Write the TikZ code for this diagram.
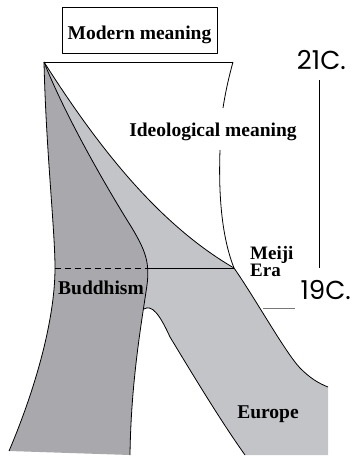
\documentclass[tikz,border=0pt]{standalone}
\usepackage{fontspec}
\setmainfont{Liberation Serif}
\newfontfamily\cfont{Poppins}
\definecolor{darkg}{RGB}{169,169,173}
\definecolor{lightg}{RGB}{195,196,200}
\definecolor{midline}{RGB}{120,120,120}
\begin{document}
\begin{tikzpicture}[x=1pt,y=-1pt,line join=round,
  lab/.style={font=\fontsize{19.5}{17}\selectfont\bfseries,inner sep=0pt},
  cent/.style={font=\fontsize{26}{26}\selectfont\cfont,inner sep=0pt},
  edge/.style={line width=0.8pt,black},
  dashline/.style={line width=0.8pt,dash pattern=on 6pt off 4pt}]
\useasboundingbox (0,0) rectangle (352,456);
% named points
\coordinate (apex) at (44,62);
\coordinate (meiji) at (234,268);
\coordinate (junc) at (144,309);
\coordinate (topR) at (233,62);
% light region (ideological / Europe)
\fill[lightg] (apex) .. controls (100,150) and (160,225) .. (meiji)
  .. controls (255,298) and (285,352) .. (300,368)
  .. controls (310,378) and (318,383) .. (328,387)
  -- (328,455) -- (245,455)
  .. controls (220,420) and (190,370) .. (170,337)
  .. controls (160,315) and (152,304) .. (junc)
  -- (100,309) -- cycle;
% dark region (Buddhism)
\fill[darkg] (apex) .. controls (46,150) and (55,230) .. (55,268)
  .. controls (55,320) and (35,390) .. (9,451)
  -- (130,455)
  .. controls (131,380) and (142,320) .. (147,285)
  .. controls (150,262) and (145,250) .. (132,228)
  .. controls (105,185) and (65,115) .. (apex) -- cycle;
% strokes
\draw[edge] (apex) .. controls (100,150) and (160,225) .. (meiji)
  .. controls (255,298) and (285,352) .. (300,368)
  .. controls (310,378) and (318,383) .. (328,387);
\draw[edge] (junc) .. controls (152,304) and (160,315) .. (170,337)
  .. controls (190,370) and (220,420) .. (245,455);
\draw[edge] (apex) .. controls (46,150) and (55,230) .. (55,268)
  .. controls (55,320) and (35,390) .. (9,451);
\draw[edge] (apex) .. controls (65,115) and (105,185) .. (132,228)
  .. controls (145,250) and (150,262) .. (147,285)
  .. controls (142,320) and (131,380) .. (130,455);
\draw[edge] (apex) -- (topR);
\draw[edge] (topR) .. controls (228,80) and (225,95) .. (223,108);
\draw[edge] (220,150) .. controls (219,180) and (219,230) .. (meiji);
\draw[dashline] (55,268) -- (148,268);
\draw[edge] (148,268) -- (meiji);
% time axis
\coordinate (axT) at (319,80);
\coordinate (axB) at (319,268);
\draw[edge] (axT) -- (axB);
\coordinate (g1) at (263,308);
\coordinate (g2) at (295,308);
\draw[line width=0.9pt,midline] (g1) -- (g2);
% labels
\node[draw,line width=0.6pt,lab,text height=32.5pt,text depth=13.5pt,minimum width=155pt,anchor=base] (modern) at (139.5,39.5) {Modern meaning};
\node[lab,anchor=base] (ideo) at (213,136) {Ideological meaning};
\node[lab,font=\fontsize{19}{17}\selectfont\bfseries,anchor=base west,align=left] (meijilab) at (250,276) {Meiji\\Era};
\node[lab,anchor=base west] (budd) at (58,294) {Buddhism};
\node[lab,anchor=base] (europe) at (268,418) {Europe};
\node[cent,anchor=base east] (c21) at (346,69) {21C.};
\node[cent,anchor=base east] (c19) at (351,299) {19C.};
\end{tikzpicture}
\end{document}
